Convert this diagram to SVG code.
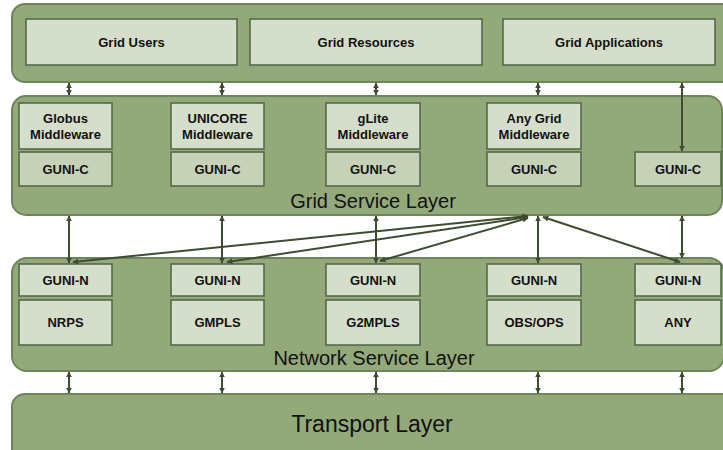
<svg xmlns="http://www.w3.org/2000/svg" width="723" height="450" viewBox="0 0 723 450">
<defs>
<marker id="ah" viewBox="0 0 10 10" refX="9" refY="5" markerWidth="3" markerHeight="3.2" orient="auto-start-reverse" markerUnits="strokeWidth">
<path d="M0,0 L10,5 L0,10 z" fill="#3e4c31"/>
</marker>
<style>
.layer{fill:#93a97a;stroke:#6d8657;stroke-width:2}
.box{fill:#d5decb;stroke:#56694a;stroke-width:1.6}
.boxc{fill:#c6d2b8;stroke:#56694a;stroke-width:1.6}
.t{font-family:"Liberation Sans",Arial,sans-serif;font-weight:bold;font-size:13px;fill:#111;text-anchor:middle}
.lt{font-family:"Liberation Sans",Arial,sans-serif;font-size:20px;fill:#111;text-anchor:middle}
.c{stroke:#3e4c31;stroke-width:2;fill:none;marker-start:url(#ah);marker-end:url(#ah)}
</style>
</defs>
<rect width="723" height="450" fill="#fff"/>

<g id="app-layer">
<rect class="layer" x="12" y="4" width="730" height="78" rx="13"/>
</g>
<g id="grid-users"><rect class="box" x="26" y="19" width="211" height="46"/><text class="t" x="131.5" y="47">Grid Users</text></g>
<g id="grid-resources"><rect class="box" x="250" y="19" width="232" height="46"/><text class="t" x="366" y="47">Grid Resources</text></g>
<g id="grid-applications"><rect class="box" x="503" y="19" width="212" height="46"/><text class="t" x="609" y="47">Grid Applications</text></g>

<g id="grid-service-layer">
<rect class="layer" x="12" y="96" width="710" height="119" rx="14"/>
<text class="lt" x="373" y="208">Grid Service Layer</text>
</g>
<g id="globus"><rect class="box" x="19" y="103" width="93" height="46"/><text class="t" x="65.5" y="123">Globus</text><text class="t" x="65.5" y="139">Middleware</text></g>
<g id="globus-gunic"><rect class="boxc" x="19" y="152" width="93" height="34"/><text class="t" x="65.5" y="174">GUNI-C</text></g>
<g id="unicore"><rect class="box" x="171" y="103" width="93" height="46"/><text class="t" x="217.5" y="123">UNICORE</text><text class="t" x="217.5" y="139">Middleware</text></g>
<g id="unicore-gunic"><rect class="boxc" x="171" y="152" width="93" height="34"/><text class="t" x="217.5" y="174">GUNI-C</text></g>
<g id="glite"><rect class="box" x="326" y="103" width="94" height="46"/><text class="t" x="373" y="123">gLite</text><text class="t" x="373" y="139">Middleware</text></g>
<g id="glite-gunic"><rect class="boxc" x="326" y="152" width="94" height="34"/><text class="t" x="373" y="174">GUNI-C</text></g>
<g id="anygrid"><rect class="box" x="487" y="103" width="94" height="46"/><text class="t" x="534" y="123">Any Grid</text><text class="t" x="534" y="139">Middleware</text></g>
<g id="anygrid-gunic"><rect class="boxc" x="487" y="152" width="94" height="34"/><text class="t" x="534" y="174">GUNI-C</text></g>
<g id="right-gunic"><rect class="boxc" x="635" y="152" width="86" height="34"/><text class="t" x="678" y="174">GUNI-C</text></g>

<g id="network-service-layer">
<rect class="layer" x="12" y="258" width="712" height="113" rx="15"/>
<text class="lt" x="374" y="365">Network Service Layer</text>
</g>
<g id="nrps-gunin"><rect class="box" x="19" y="264" width="93" height="32"/><text class="t" x="65.5" y="285">GUNI-N</text></g>
<g id="nrps"><rect class="box" x="19" y="300" width="93" height="45"/><text class="t" x="65.5" y="327">NRPS</text></g>
<g id="gmpls-gunin"><rect class="box" x="171" y="264" width="93" height="32"/><text class="t" x="217.5" y="285">GUNI-N</text></g>
<g id="gmpls"><rect class="box" x="171" y="300" width="93" height="45"/><text class="t" x="217.5" y="327">GMPLS</text></g>
<g id="g2mpls-gunin"><rect class="box" x="326" y="264" width="94" height="32"/><text class="t" x="373" y="285">GUNI-N</text></g>
<g id="g2mpls"><rect class="box" x="326" y="300" width="94" height="45"/><text class="t" x="373" y="327">G2MPLS</text></g>
<g id="obs-gunin"><rect class="box" x="487" y="264" width="94" height="32"/><text class="t" x="534" y="285">GUNI-N</text></g>
<g id="obs"><rect class="box" x="487" y="300" width="94" height="45"/><text class="t" x="534" y="327">OBS/OPS</text></g>
<g id="any-gunin"><rect class="box" x="635" y="264" width="86" height="32"/><text class="t" x="678" y="285">GUNI-N</text></g>
<g id="any"><rect class="box" x="635" y="300" width="86" height="45"/><text class="t" x="678" y="327">ANY</text></g>

<g id="transport-layer">
<rect class="layer" x="12" y="394" width="730" height="70" rx="13"/>
<text class="lt" x="372" y="432" style="font-size:23px">Transport Layer</text>
</g>

<g id="connectors">
<line class="c" x1="69" y1="83" x2="69" y2="95"/>
<line class="c" x1="222" y1="83" x2="222" y2="95"/>
<line class="c" x1="376" y1="83" x2="376" y2="95"/>
<line class="c" x1="538" y1="83" x2="538" y2="95"/>
<line class="c" x1="682" y1="83" x2="682" y2="151"/>

<line class="c" x1="69" y1="216" x2="69" y2="263"/>
<line class="c" x1="222" y1="216" x2="222" y2="263"/>
<line class="c" x1="376" y1="216" x2="376" y2="263"/>
<line class="c" x1="538" y1="216" x2="538" y2="263"/>
<line class="c" x1="682" y1="216" x2="682" y2="258"/>

<line class="c" x1="528" y1="216" x2="73" y2="262"/>
<line class="c" x1="528" y1="217" x2="227" y2="262"/>
<line class="c" x1="528" y1="218" x2="380" y2="261"/>
<line class="c" x1="543" y1="217" x2="680" y2="262"/>

<line class="c" x1="69" y1="372" x2="69" y2="393"/>
<line class="c" x1="222" y1="372" x2="222" y2="393"/>
<line class="c" x1="376" y1="372" x2="376" y2="393"/>
<line class="c" x1="538" y1="372" x2="538" y2="393"/>
<line class="c" x1="682" y1="372" x2="682" y2="393"/>
</g>
</svg>
